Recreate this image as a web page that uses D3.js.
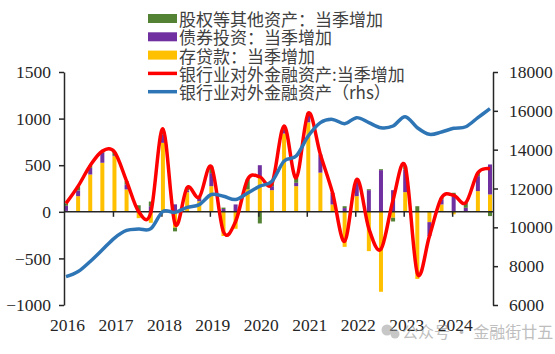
<!DOCTYPE html>
<html>
<head>
<meta charset="utf-8">
<script src="https://cdn.jsdelivr.net/npm/d3@7"></script>
<style>
body { margin:0; background:#fff; }
svg text { fill:#262626; }
.axis text { font-family:"Liberation Serif","DejaVu Serif",serif; font-size:17.5px; fill:#262626; }
.axis path, .axis line { stroke:#262626; stroke-width:1.5; }
.legend text { font-family:"Noto Sans CJK SC",sans-serif; font-size:17px; fill:#404040; }
</style>
</head>
<body>
<svg id="svg1"></svg>
<script>
// quarters 2016Q1 .. 2024Q4
var years = ["2016","2017","2018","2019","2020","2021","2022","2023","2024"];
var quarters = [];
years.forEach(function(y){ for (var q=1;q<=4;q++) quarters.push(y+"Q"+q); });

// 存贷款：当季增加
var loans = [10,168,400,526,597,240,-68,-118,740,-170,210,114,275,-260,-182,240,370,232,
             840,275,960,420,79,-376,168,-422,-858,-64,211,-720,-111,79,-27,0,222,186];
// 债券投资：当季增加
var bonds = [55,61,72,107,10,54,10,60,90,80,20,25,140,30,79,0,130,43,
             40,36,90,190,125,40,161,232,447,232,243,0,-150,54,168,43,161,322];
// 股权等其他资产：当季增加
var equity = [25,46,25,18,36,36,60,50,60,-40,30,18,70,15,0,110,-125,29,
              40,54,10,5,0,20,20,10,10,-40,36,60,0,18,36,54,36,-46];
// 银行业对外金融资产 (rhs)
var assets = [7460,7720,8240,8840,9450,9840,9910,9930,10820,10770,11030,11170,11690,11600,11430,11770,12120,12370,
              13410,13670,14700,15390,15560,15340,15650,15390,15130,15220,15700,15130,14790,14910,15100,15180,15650,16110];

var leftTicks = [-1000,-500,0,500,1000,1500];
var rightTicks = [6000,8000,10000,12000,14000,16000,18000];

var seriesKeys = ["loans","bonds","equity"];
var seriesColors = {loans:"#FFC000", bonds:"#7030A0", equity:"#548235"};

var legendItems = [
    {name:"股权等其他资产：当季增加", color:"#548235", type:"rect"},
    {name:"债券投资：当季增加", color:"#7030A0", type:"rect"},
    {name:"存贷款：当季增加", color:"#FFC000", type:"rect"},
    {name:"银行业对外金融资产:当季增加", color:"#FF0000", type:"line"},
    {name:"银行业对外金融资产（rhs）", color:"#2E75B6", type:"line"}
];

var screen = {width:555, height:354};
var svg = d3.select("#svg1").attr("width",screen.width).attr("height",screen.height);

var rows = quarters.map(function(q,i){
    return {q:q, loans:loans[i], bonds:bonds[i], equity:equity[i],
            total:loans[i]+bonds[i]+equity[i], assets:assets[i]};
});

var xScale = d3.scalePoint().domain(quarters).range([66,490]);
var yLeft = d3.scaleLinear().domain([-1000,1500]).range([305,72]);
var yRight = d3.scaleLinear().domain([6000,18000]).range([305,72]);

// stacked bars
var stack = d3.stack().keys(seriesKeys).offset(d3.stackOffsetDiverging);
var stacked = stack(rows);
var barW = 4;

svg.append("g").selectAll("g")
    .data(stacked)
    .enter()
    .append("g")
    .attr("fill",function(s){ return seriesColors[s.key]; })
    .selectAll("rect")
    .data(function(s){ return s; })
    .enter()
    .append("rect")
    .attr("x",function(d){ return xScale(d.data.q)-barW/2; })
    .attr("y",function(d){ return yLeft(Math.max(d[0],d[1])); })
    .attr("width",barW)
    .attr("height",function(d){ return Math.abs(yLeft(d[0])-yLeft(d[1])); });

// axes
var leftAxis = d3.axisLeft(yLeft).tickValues(leftTicks).tickFormat(d3.format("d"))
    .tickSize(5).tickSizeOuter(0).tickPadding(8);
svg.append("g").attr("class","axis").attr("transform","translate(64,0)").call(leftAxis);

var rightAxis = d3.axisRight(yRight).tickValues(rightTicks).tickFormat(d3.format("d"))
    .tickSize(5).tickSizeOuter(0).tickPadding(11);
svg.append("g").attr("class","axis").attr("transform","translate(493,0)").call(rightAxis);

var yearTicks = quarters.filter(function(q,i){ return i%4==0; });

var xTickAxis = d3.axisBottom(xScale).tickValues(yearTicks.slice(1)).tickFormat("").tickSize(5).tickSizeOuter(0);
var xt = svg.append("g").attr("class","axis").attr("transform","translate(-1.5,"+yLeft(0)+")").call(xTickAxis);
xt.select(".domain").remove();
svg.append("line").attr("x1",64).attr("x2",493).attr("y1",yLeft(0)).attr("y2",yLeft(0))
    .attr("stroke","#262626").attr("stroke-width",1.5);

var xLabelAxis = d3.axisBottom(xScale).tickValues(yearTicks)
    .tickFormat(function(q){ return q.slice(0,4); }).tickSize(0).tickPadding(0);
var xl = svg.append("g").attr("class","axis").attr("transform","translate(1,319)").call(xLabelAxis);
xl.select(".domain").remove();

// lines
var redLine = d3.line()
    .x(function(d){ return xScale(d.q); })
    .y(function(d){ return yLeft(d.total); })
    .curve(d3.curveCardinal.tension(0));
svg.append("path").datum(rows).attr("d",redLine)
    .attr("fill","none").attr("stroke","#FF0000").attr("stroke-width",3.5);

var blueLine = d3.line()
    .x(function(d){ return xScale(d.q); })
    .y(function(d){ return yRight(d.assets); })
    .curve(d3.curveCardinal.tension(0));
svg.append("path").datum(rows).attr("d",blueLine)
    .attr("fill","none").attr("stroke","#2E75B6").attr("stroke-width",3.5);

// legend
var legend = svg.append("g").classed("legend",true).attr("transform","translate(148,18.5)");
var entries = legend.selectAll("g").data(legendItems).enter().append("g")
    .attr("transform",function(d,i){ return "translate(0,"+(i*18.3)+")"; });
entries.filter(function(d){ return d.type=="rect"; }).append("rect")
    .attr("x",0).attr("y",-4.5).attr("width",29).attr("height",9)
    .attr("fill",function(d){ return d.color; });
entries.filter(function(d){ return d.type=="line"; }).append("line")
    .attr("x1",0).attr("x2",29).attr("y1",0).attr("y2",0)
    .attr("stroke",function(d){ return d.color; }).attr("stroke-width",3.5);
entries.append("text").text(function(d){ return d.name; })
    .attr("x",31).attr("y",0).attr("dominant-baseline","central");

// watermark
var wm = svg.append("g").attr("opacity",0.55);
wm.append("circle").attr("cx",387).attr("cy",330).attr("r",5.5).attr("fill","#9a9a9a");
wm.append("circle").attr("cx",395).attr("cy",334).attr("r",4.5).attr("fill","#9a9a9a");
wm.append("text").text("公众号 · 金融街廿五").attr("x",402).attr("y",331)
    .attr("dominant-baseline","central")
    .style("font-family","Noto Sans CJK SC, sans-serif").style("font-size","16px").style("fill","#8a8a8a");
</script>
</body>
</html>
